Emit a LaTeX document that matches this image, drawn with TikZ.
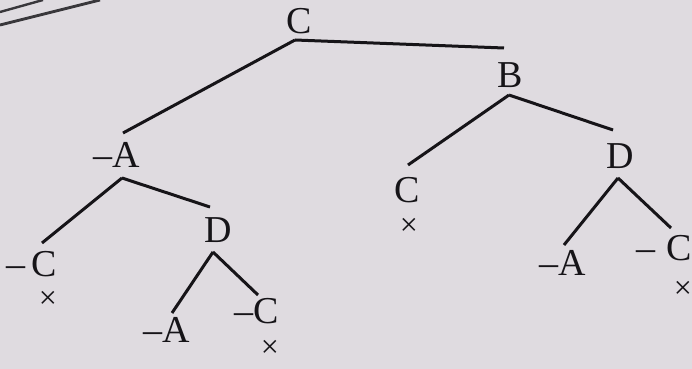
\documentclass[tikz,border=0pt]{standalone}
\usepackage{fontspec}
\setmainfont{Liberation Serif}
\usepackage{tikz}
\usetikzlibrary{calc}
\usetikzlibrary{positioning}

\definecolor{paper}{RGB}{223,219,224}
\definecolor{ink}{RGB}{22,20,24}

\tikzset{
	lit/.style={rectangle, inner sep=0pt, text=ink, font=\fontsize{19}{21}\selectfont},
	shut/.style={rectangle, inner sep=0pt, text=ink, font=\fontsize{16}{16}\selectfont},
	branch/.style={ink, line width=1.5pt}
}

\begin{document}
\begin{tikzpicture}[x=0.5pt, y=-0.5pt]
			\fill[paper] (0,0) rectangle (692,369);
			\useasboundingbox (0,0) rectangle (692,369);
			\draw[ink!85, line width=1.2pt] (0,12) -- (43,0);
			\draw[ink!85, line width=1.4pt] (0,25) -- (100,0);
			
			\node[lit] (c0) at (299,21) {C};
			\node[lit] (b1) at (510,75) {B};
			\node[lit] (na1) at (117,155) {\textendash A};
			\node[lit] (c2) at (407,190) {C};
			\node[lit] (d1) at (620,156) {D};
			\node[lit] (nc1) at (32,264) {\textendash\,C};
			\node[lit] (d2) at (218,230) {D};
			\node[lit] (na2) at (167,330) {\textendash A};
			\node[lit] (nc2) at (257,311) {\textendash C};
			\node[lit] (na3) at (563,263) {\textendash A};
			\node[lit] (nc3) at (664,248) {\textendash\;C};
			\node[shut] (x1) at (409,227) {×};
			\node[shut] (x2) at (48,300) {×};
			\node[shut] (x3) at (270,349) {×};
			\node[shut] (x4) at (683,290) {×};
			
			% Draw branches
			\draw[branch] ([xshift=-2pt,yshift=-9.5pt]c0.center) -- ([xshift=-3pt,yshift=13.5pt]b1.center);
			\draw[branch] ([xshift=-2pt,yshift=-9.5pt]c0.center) -- ([xshift=3pt,yshift=11pt]na1.center);
			\draw[branch] ([xshift=-0.5pt,yshift=-10pt]b1.center) -- ([xshift=0.5pt,yshift=12.5pt]c2.center);
			\draw[branch] ([xshift=-0.5pt,yshift=-10pt]b1.center) -- ([xshift=-3.5pt,yshift=13pt]d1.center);
			\draw[branch] ([xshift=2.5pt,yshift=-11.5pt]na1.center) -- ([xshift=5pt,yshift=10.5pt]nc1.center);
			\draw[branch] ([xshift=2.5pt,yshift=-11.5pt]na1.center) -- ([xshift=-4pt,yshift=11.5pt]d2.center);
			\draw[branch] ([xshift=-2.5pt,yshift=-11pt]d2.center) -- ([xshift=2.5pt,yshift=8.5pt]na2.center);
			\draw[branch] ([xshift=-2.5pt,yshift=-11pt]d2.center) -- ([xshift=0.5pt,yshift=8pt]nc2.center);
			\draw[branch] ([xshift=-1pt,yshift=-11pt]d1.center) -- ([xshift=0.5pt,yshift=9pt]na3.center);
			\draw[branch] ([xshift=-1pt,yshift=-11pt]d1.center) -- ([xshift=3.5pt,yshift=10pt]nc3.center);
		\end{tikzpicture}
\end{document}
